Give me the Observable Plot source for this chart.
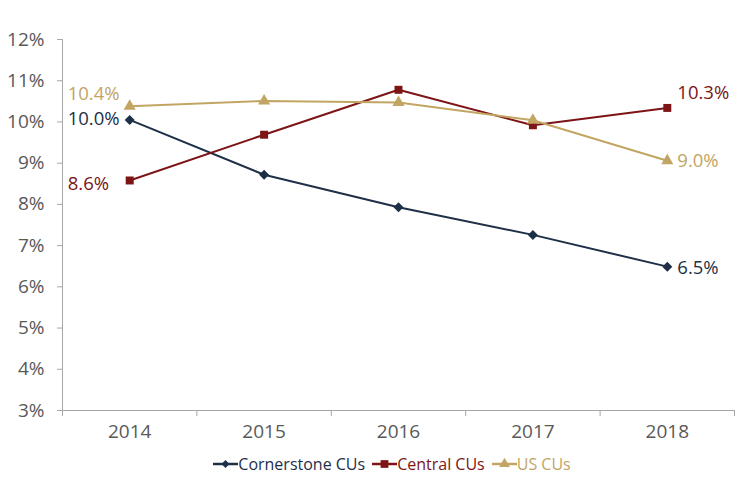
<!DOCTYPE html>
<html><head><meta charset="utf-8">
<script src="https://cdn.jsdelivr.net/npm/d3@7"></script>
<script src="https://cdn.jsdelivr.net/npm/@observablehq/plot@0.6"></script>
<style>
body{margin:0;background:#fff;font-family:"Open Sans",sans-serif;}
#legend{display:flex;justify-content:center;gap:7px;font-size:16px;margin-top:6px;padding-left:34px;line-height:20px}
#legend span{display:inline-flex;align-items:center}
</style></head><body>
<div id="chart"></div>
<div id="legend"></div>
<script>
const years = [2014, 2015, 2016, 2017, 2018];
const cornerstone = [10.05, 8.72, 7.93, 7.26, 6.49];
const central = [8.58, 9.69, 10.78, 9.92, 10.34];
const us = [10.38, 10.51, 10.47, 10.04, 9.06];
const seriesNames = ["Cornerstone CUs", "Central CUs", "US CUs"];
const colors = ["#1e2f48", "#7d1416", "#c2a563"];
const symbols = ["diamond2", "square", "triangle"];
const yTicks = [3,4,5,6,7,8,9,10,11,12];
const startLabels = ["10.0%", "8.6%", "10.4%"];
const endLabels = ["6.5%", "10.3%", "9.0%"];

const all = [cornerstone, central, us];
const data = [];
all.forEach((vals, s) => vals.forEach((v, i) => data.push({series: seriesNames[s], year: years[i], value: v})));

const startDy = [-1, 4, -12];
const endDy = [1, -15, 0];
const labelMarks = [];
all.forEach((vals, s) => {
  labelMarks.push(Plot.text([{series: seriesNames[s], value: vals[0], text: startLabels[s]}],
    {x: () => years[0], y: "value", text: "text", fill: "series", dx: -62, dy: startDy[s], textAnchor: "start", fontSize: 18.5}));
  labelMarks.push(Plot.text([{series: seriesNames[s], value: vals[vals.length - 1], text: endLabels[s]}],
    {x: () => years[years.length - 1], y: "value", text: "text", fill: "series", dx: 10, dy: endDy[s], textAnchor: "start", fontSize: 18.5}));
});

const plot = Plot.plot({
  width: 750, height: 448,
  marginTop: 39, marginBottom: 38, marginLeft: 62, marginRight: 16,
  style: {fontFamily: "Open Sans, sans-serif", fontSize: "19px", color: "#595959"},
  x: {domain: [2013.5, 2018.5], label: null},
  y: {domain: [3, 12], label: null},
  color: {domain: seriesNames, range: colors},
  symbol: {domain: seriesNames, range: symbols},
  marks: [
    Plot.axisY({ticks: yTicks, tickFormat: d => d + "%", tickSize: 5, tickPadding: 13, stroke: "#a6a6a6", fontSize: 19, fill: "#595959", label: null}),
    Plot.ruleX([2013.5], {y1: 3, y2: 12, stroke: "#a6a6a6"}),
    Plot.ruleY([3], {stroke: "#a6a6a6"}),
    Plot.axisX({ticks: [2013.5, 2014.5, 2015.5, 2016.5, 2017.5, 2018.5], tickFormat: () => "", tickSize: 6, stroke: "#a6a6a6", label: null}),
    Plot.axisX({ticks: years, tickFormat: d => String(d), tickSize: 0, tickPadding: 14, fontSize: 19, fill: "#595959", label: null}),
    Plot.line(data, {x: "year", y: "value", z: "series", stroke: "series", strokeWidth: 2}),
    Plot.dot(data, {x: "year", y: "value", symbol: "series", fill: "series", r: 4.5}),
    ...labelMarks
  ]
});
document.getElementById("chart").appendChild(plot);

const legend = document.getElementById("legend");
seriesNames.forEach((name, i) => {
  const span = document.createElement("span");
  const sym = d3.symbol([d3.symbolDiamond2, d3.symbolSquare, d3.symbolTriangle][i], [40, 60, 50][i])();
  span.innerHTML = `<svg width="25" height="14"><line x1="0" x2="25" y1="7" y2="7" stroke="${colors[i]}" stroke-width="2.5"/><path d="${sym}" transform="translate(12.5,7)" fill="${colors[i]}"/></svg><span style="color:${colors[i]}">${name}</span>`;
  legend.appendChild(span);
});
</script>
</body></html>
